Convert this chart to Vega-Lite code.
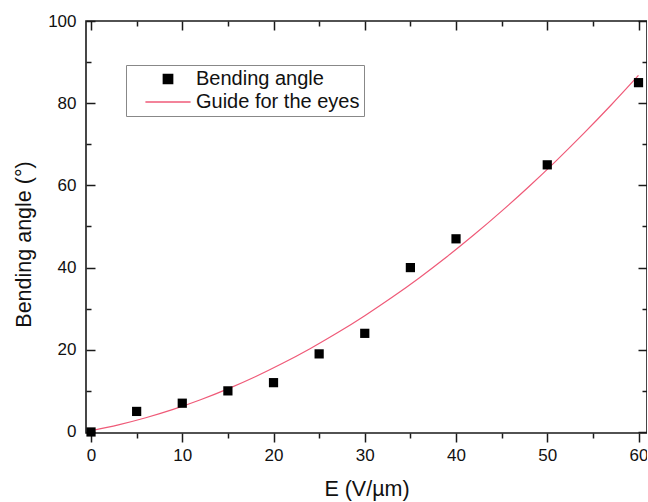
{
  "$schema": "https://vega.github.io/schema/vega-lite/v6.json",
  "width": 561,
  "height": 412,
  "autosize": {"type": "none"},
  "padding": {"left": 86, "top": 21, "right": 0, "bottom": 69},
  "background": "white",
  "config": {
    "view": {"stroke": "#1a1a1a", "strokeWidth": 1.6},
    "font": "Liberation Sans",
    "axis": {"grid": false, "domain": false, "tickColor": "#1a1a1a", "tickWidth": 1.5, "labelColor": "#111", "titleColor": "#111", "labelFont": "Liberation Sans", "titleFont": "Liberation Sans", "labelFontSize": 17, "titleFontSize": 21.5, "titleFontWeight": "normal"}
  },
  "datasets": {
    "pts": [
      {"E": 0, "angle": 0, "series": "Bending angle"},
      {"E": 5, "angle": 5, "series": "Bending angle"},
      {"E": 10, "angle": 7, "series": "Bending angle"},
      {"E": 15, "angle": 10, "series": "Bending angle"},
      {"E": 20, "angle": 12, "series": "Bending angle"},
      {"E": 25, "angle": 19, "series": "Bending angle"},
      {"E": 30, "angle": 24, "series": "Bending angle"},
      {"E": 35, "angle": 40, "series": "Bending angle"},
      {"E": 40, "angle": 47, "series": "Bending angle"},
      {"E": 50, "angle": 65, "series": "Bending angle"},
      {"E": 60, "angle": 85, "series": "Bending angle"}
    ],
    "curve": [
      {"E": 0, "angle": 0.3, "series": "Guide for the eyes"},
      {"E": 3, "angle": 1.73, "series": "Guide for the eyes"},
      {"E": 6, "angle": 3.46, "series": "Guide for the eyes"},
      {"E": 9, "angle": 5.5, "series": "Guide for the eyes"},
      {"E": 12, "angle": 7.84, "series": "Guide for the eyes"},
      {"E": 15, "angle": 10.49, "series": "Guide for the eyes"},
      {"E": 18, "angle": 13.44, "series": "Guide for the eyes"},
      {"E": 21, "angle": 16.7, "series": "Guide for the eyes"},
      {"E": 24, "angle": 20.26, "series": "Guide for the eyes"},
      {"E": 27, "angle": 24.12, "series": "Guide for the eyes"},
      {"E": 30, "angle": 28.3, "series": "Guide for the eyes"},
      {"E": 33, "angle": 32.77, "series": "Guide for the eyes"},
      {"E": 36, "angle": 37.55, "series": "Guide for the eyes"},
      {"E": 39, "angle": 42.64, "series": "Guide for the eyes"},
      {"E": 42, "angle": 48.03, "series": "Guide for the eyes"},
      {"E": 45, "angle": 53.73, "series": "Guide for the eyes"},
      {"E": 48, "angle": 59.73, "series": "Guide for the eyes"},
      {"E": 51, "angle": 66.04, "series": "Guide for the eyes"},
      {"E": 54, "angle": 72.65, "series": "Guide for the eyes"},
      {"E": 57, "angle": 79.56, "series": "Guide for the eyes"},
      {"E": 60, "angle": 86.78, "series": "Guide for the eyes"}
    ]
  },
  "resolve": {"axis": {"x": "independent", "y": "independent"}},
  "layer": [
    {
      "data": {"name": "curve"},
      "mark": {"type": "line", "strokeWidth": 1.2, "interpolate": "monotone"},
      "encoding": {
        "x": {"field": "E", "type": "quantitative", "scale": {"domain": [-0.55, 60.93], "nice": false, "zero": false},
          "axis": {"orient": "bottom", "title": "E (V/µm)", "values": [0, 10, 20, 30, 40, 50, 60], "tickSize": 9, "labelPadding": 5, "titlePadding": 15}},
        "y": {"field": "angle", "type": "quantitative", "scale": {"domain": [-0.25, 100], "nice": false, "zero": false},
          "axis": {"orient": "left", "title": "Bending angle (°)", "values": [0, 20, 40, 60, 80, 100], "ticks": false, "tickSize": 0, "labelPadding": 10, "titleX": -62, "titleY": 223, "titleBaseline": "middle", "titleAngle": -90}},
        "color": {"field": "series", "type": "nominal", "scale": {"domain": ["Bending angle", "Guide for the eyes"], "range": ["#000000", "#ef5a78"]}}
      }
    },
    {
      "data": {"name": "pts"},
      "mark": {"type": "point", "filled": true, "size": 85, "opacity": 1},
      "encoding": {
        "x": {"field": "E", "type": "quantitative",
          "axis": {"orient": "bottom", "title": null, "labels": false, "values": [5, 15, 25, 35, 45, 55], "tickSize": 5}},
        "y": {"field": "angle", "type": "quantitative",
          "axis": {"orient": "left", "title": null, "labels": false, "values": [0, 20, 40, 60, 80, 100], "tickSize": -9}},
        "color": {"field": "series", "type": "nominal",
          "legend": {"title": null, "orient": "none", "legendX": 40, "legendY": 44, "strokeColor": "#888", "fillColor": "white", "padding": 4, "labelFontSize": 20, "labelFont": "Liberation Sans", "labelColor": "#111", "labelLimit": 400, "symbolSize": 85, "symbolOffset": 28, "labelOffset": 18, "rowPadding": 3,
            "labelExpr": "datum.label + '\u00a0\u00a0'",
            "encode": {"symbols": {"update": {"stroke": {"signal": "datum.value === 'Guide for the eyes' ? '#ef5a78' : 'transparent'"}, "strokeWidth": {"value": 1.3}}}}}},
        "shape": {"field": "series", "type": "nominal", "scale": {"domain": ["Bending angle", "Guide for the eyes"], "range": ["square", "M-4.9,0L4.9,0"]}}
      }
    },
    {
      "data": {"name": "pts"},
      "mark": {"type": "point", "opacity": 0},
      "encoding": {
        "x": {"field": "E", "type": "quantitative",
          "axis": {"orient": "top", "title": null, "labels": false, "values": [0, 10, 20, 30, 40, 50, 60], "tickSize": -9}},
        "y": {"field": "angle", "type": "quantitative",
          "axis": {"orient": "left", "title": null, "labels": false, "values": [10, 30, 50, 70, 90], "tickSize": -5}}
      }
    },
    {
      "data": {"name": "pts"},
      "mark": {"type": "point", "opacity": 0},
      "encoding": {
        "x": {"field": "E", "type": "quantitative",
          "axis": {"orient": "top", "title": null, "labels": false, "values": [5, 15, 25, 35, 45, 55], "tickSize": -5}},
        "y": {"field": "angle", "type": "quantitative",
          "axis": {"orient": "right", "title": null, "labels": false, "values": [0, 20, 40, 60, 80, 100], "tickSize": -9}}
      }
    },
    {
      "data": {"name": "pts"},
      "mark": {"type": "point", "opacity": 0},
      "encoding": {
        "x": {"field": "E", "type": "quantitative", "axis": null},
        "y": {"field": "angle", "type": "quantitative",
          "axis": {"orient": "right", "title": null, "labels": false, "values": [10, 30, 50, 70, 90], "tickSize": -5}}
      }
    }
  ]
}
